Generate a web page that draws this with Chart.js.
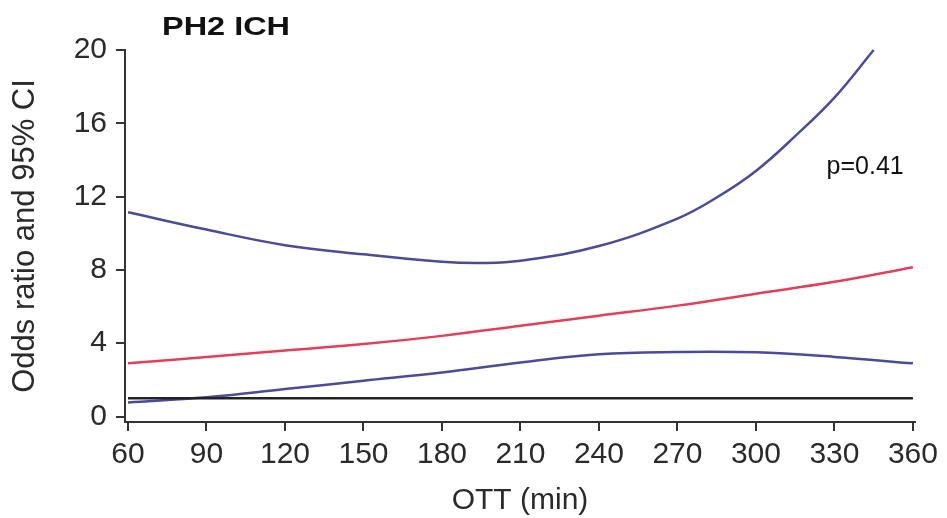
<!DOCTYPE html>
<html>
<head>
<meta charset="utf-8">
<script src="https://cdn.jsdelivr.net/npm/chart.js@4.4.1/dist/chart.umd.min.js"></script>
<style>
  html, body { margin: 0; padding: 0; background: #fff; }
  #wrap { width: 947px; height: 518px; }
</style>
</head>
<body>
<div id="wrap"><canvas id="canevas" width="947" height="518"></canvas></div>
<script>
// values (OTT in minutes)
var ottPoints = [60, 90, 120, 150, 180, 195, 210, 240, 270, 285, 300, 315, 330, 345];
var upperCI   = [11.15, 10.2, 9.35, 8.85, 8.45, 8.38, 8.5, 9.3, 10.8, 11.95, 13.4, 15.3, 17.4, 20.0];

var ottMain   = [60, 90, 120, 150, 180, 210, 240, 270, 300, 330, 360];
var oddsRatio = [2.9, 3.25, 3.6, 3.95, 4.4, 4.95, 5.5, 6.05, 6.7, 7.35, 8.15];
var lowerCI   = [0.77, 1.05, 1.5, 1.95, 2.4, 2.95, 3.4, 3.52, 3.5, 3.25, 2.9];

var refX = [60, 360];
var refY = [1, 1];

var xTicks = [60, 90, 120, 150, 180, 210, 240, 270, 300, 330, 360];
var yTicks = [0, 4, 8, 12, 16, 20];

var panelTitle = "PH2 ICH";
var pText = "p=0.41";

function pts(xs, ys) {
  return xs.map(function (x, i) { return { x: x, y: ys[i] }; });
}

var textPlugin = {
  id: 'texts',
  afterDraw: function (chart) {
    var ctx = chart.ctx;
    var sx = chart.scales.x, sy = chart.scales.y;
    ctx.save();
    // panel title, a bit wide like the original
    ctx.fillStyle = '#111';
    ctx.font = 'bold 26px "Liberation Sans", Arial, sans-serif';
    ctx.textBaseline = 'middle';
    ctx.textAlign = 'left';
    var w = ctx.measureText(panelTitle).width;
    ctx.translate(162, 28);
    ctx.scale(128 / w, 1);
    ctx.fillText(panelTitle, 0, 0);
    ctx.restore();

    ctx.save();
    ctx.fillStyle = '#111';
    ctx.font = '25px "Liberation Sans", Arial, sans-serif';
    ctx.textBaseline = 'middle';
    ctx.textAlign = 'left';
    ctx.fillText(pText, sx.getPixelForValue(327), sy.getPixelForValue(13.6));
    ctx.restore();
  }
};

var c = document.getElementById("canevas");
var ctx = c.getContext('2d');
var blue = '#4b4b96';
var red = '#e2405a';

var chart = new Chart(ctx, {
  type: 'line',
  data: {
    datasets: [
      { label: 'ref', data: pts(refX, refY), borderColor: '#222', borderWidth: 2.5 },
      { label: 'lower', data: pts(ottMain, lowerCI), borderColor: blue, borderWidth: 2.5 },
      { label: 'OR', data: pts(ottMain, oddsRatio), borderColor: red, borderWidth: 2.5 },
      { label: 'upper', data: pts(ottPoints, upperCI), borderColor: blue, borderWidth: 2.5 }
    ]
  },
  options: {
    responsive: false,
    animation: false,
    devicePixelRatio: 1,
    layout: { padding: { left: 0, right: 32, top: 50, bottom: 0 } },
    elements: {
      point: { radius: 0 },
      line: { tension: 0.4, fill: false }
    },
    datasets: { line: { clip: 6 } },
    plugins: {
      legend: { display: false },
      tooltip: { enabled: false }
    },
    scales: {
      x: {
        type: 'linear',
        min: 58.85,
        max: 360.8,
        afterBuildTicks: function (s) { s.ticks = xTicks.map(function (v) { return { value: v }; }); },
        afterFit: function (s) { s.height = 96; },
        grid: { display: true, drawOnChartArea: false, tickLength: 9, color: '#333', lineWidth: 2 },
        border: { display: true, color: '#333', width: 2 },
        ticks: {
          color: '#2a2a2a',
          padding: 6,
          maxRotation: 0,
          autoSkip: false,
          font: { family: '"Liberation Sans", Arial, sans-serif', size: 30 }
        },
        title: {
          display: true,
          text: 'OTT (min)',
          color: '#2a2a2a',
          padding: { top: 0, bottom: 2 },
          font: { family: '"Liberation Sans", Arial, sans-serif', size: 30, lineHeight: 1 }
        }
      },
      y: {
        type: 'linear',
        min: -0.3,
        max: 20,
        afterBuildTicks: function (s) { s.ticks = yTicks.map(function (v) { return { value: v }; }); },
        afterFit: function (s) { s.width = 125; },
        grid: { display: true, drawOnChartArea: false, tickLength: 9, color: '#333', lineWidth: 2 },
        border: { display: true, color: '#333', width: 2 },
        ticks: {
          color: '#2a2a2a',
          padding: 9,
          font: { family: '"Liberation Sans", Arial, sans-serif', size: 30 }
        },
        title: {
          display: true,
          text: 'Odds ratio and 95% CI',
          color: '#2a2a2a',
          padding: { top: 10, bottom: 0 },
          font: { family: '"Liberation Sans", Arial, sans-serif', size: 31, lineHeight: 1 }
        }
      }
    }
  },
  plugins: [textPlugin]
});
</script>
</body>
</html>
